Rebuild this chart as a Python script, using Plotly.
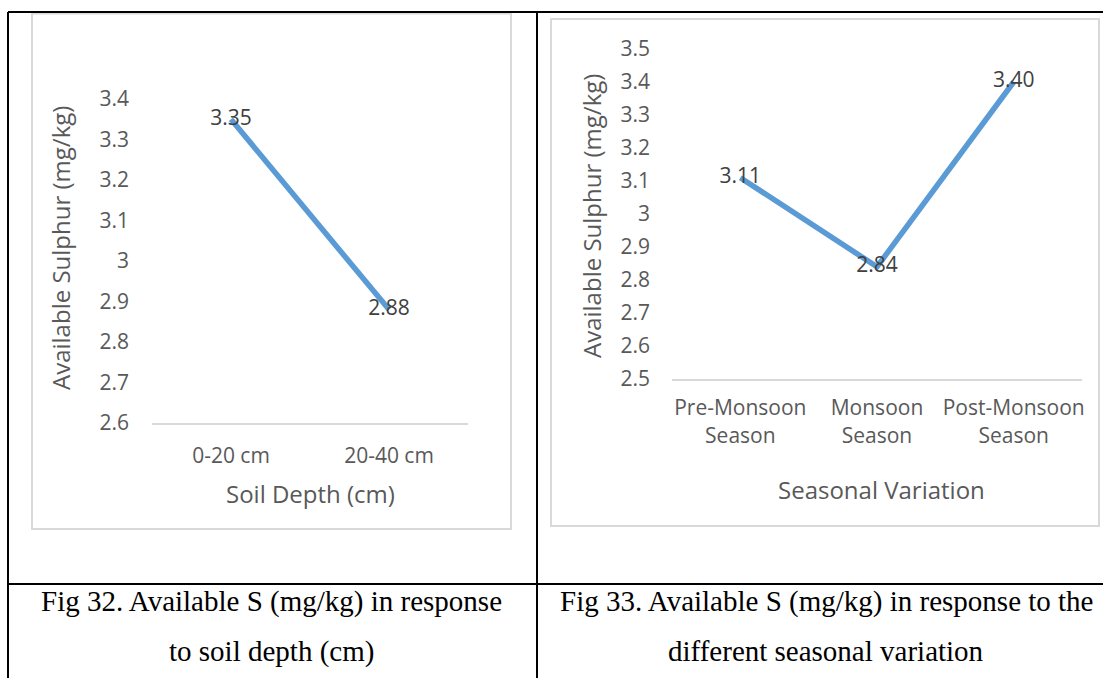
import plotly.graph_objects as go

# ---- data ----
depth_categories = ["0-20 cm", "20-40 cm"]
depth_values = [3.35, 2.88]
season_categories = ["Pre-Monsoon<br>Season", "Monsoon<br>Season", "Post-Monsoon<br>Season"]
season_values = [3.11, 2.84, 3.40]
left_tickvals = [2.6, 2.7, 2.8, 2.9, 3.0, 3.1, 3.2, 3.3, 3.4]
left_ticktext = ["2.6", "2.7", "2.8", "2.9", "3", "3.1", "3.2", "3.3", "3.4"]
right_tickvals = [2.5, 2.6, 2.7, 2.8, 2.9, 3.0, 3.1, 3.2, 3.3, 3.4, 3.5]
right_ticktext = ["2.5", "2.6", "2.7", "2.8", "2.9", "3", "3.1", "3.2", "3.3", "3.4", "3.5"]
y_title = "Available Sulphur (mg/kg)"
left_x_title = "Soil Depth (cm)"
right_x_title = "Seasonal Variation"
caption_left = ["Fig 32. Available S (mg/kg) in response", "to soil depth (cm)"]
caption_right = ["Fig 33. Available S (mg/kg) in response to the", "different seasonal variation"]

W, H = 1103, 678


def px(x):
    return x / W


def py(y):
    return 1 - y / H


LINE = "#5B9BD5"
TICK = "#595959"
LABEL = "#404040"
GRAYBOX = "#D9D9D9"
FONT = "Open Sans"
TICKSIZE = 21
TITLESIZE = 24

fig = go.Figure()

fig.add_trace(go.Scatter(
    x=depth_categories, y=depth_values, xaxis="x", yaxis="y",
    mode="lines+text", line=dict(color=LINE, width=5.5),
    text=[f"{v:.2f}" for v in depth_values], textposition="middle center",
    textfont=dict(family=FONT, size=TICKSIZE, color=LABEL), showlegend=False,
    hoverinfo="skip", cliponaxis=False,
))
fig.add_trace(go.Scatter(
    x=season_categories, y=season_values, xaxis="x2", yaxis="y2",
    mode="lines+text", line=dict(color=LINE, width=5.5),
    text=[f"{v:.2f}" for v in season_values], textposition="middle center",
    textfont=dict(family=FONT, size=TICKSIZE, color=LABEL), showlegend=False,
    hoverinfo="skip", cliponaxis=False,
))

common_x = dict(showgrid=False, zeroline=False, showline=True, linecolor=GRAYBOX,
                linewidth=2, ticks="", tickfont=dict(family=FONT, size=TICKSIZE, color=TICK),
                automargin=False, fixedrange=True, type="category")
common_y = dict(showgrid=False, zeroline=False, showline=False, ticks="",
                tickfont=dict(family=FONT, size=TICKSIZE, color=TICK), automargin=False,
                fixedrange=True)

fig.update_layout(
    width=W, height=H,
    margin=dict(l=0, r=0, t=0, b=0),
    paper_bgcolor="white", plot_bgcolor="white",
    xaxis=dict(domain=[px(152), px(468)], anchor="y", range=[-0.5, 1.5],
               ticklabelstandoff=13, **common_x),
    yaxis=dict(domain=[py(423), py(99)], anchor="x", range=[2.6, 3.4],
               tickvals=left_tickvals, ticktext=left_ticktext,
               ticklabelstandoff=22, **common_y),
    xaxis2=dict(domain=[px(672), px(1082)], anchor="y2", range=[-0.5, 2.5],
                ticklabelstandoff=9, **common_x),
    yaxis2=dict(domain=[py(379), py(49)], anchor="x2", range=[2.5, 3.5],
                tickvals=right_tickvals, ticktext=right_ticktext,
                ticklabelstandoff=21, **common_y),
)

shapes = []
# chart boxes
shapes.append(dict(type="rect", xref="paper", yref="paper",
                   x0=px(32), x1=px(511), y0=py(529), y1=py(13.5),
                   line=dict(color=GRAYBOX, width=2)))
shapes.append(dict(type="rect", xref="paper", yref="paper",
                   x0=px(551), x1=px(1099), y0=py(526), y1=py(19),
                   line=dict(color=GRAYBOX, width=2)))
# table borders
black = dict(color="black", width=2)
shapes.append(dict(type="line", xref="paper", yref="paper", x0=px(8), x1=1, y0=py(12), y1=py(12), line=black))
shapes.append(dict(type="line", xref="paper", yref="paper", x0=px(8), x1=px(8), y0=py(12), y1=0, line=black))
shapes.append(dict(type="line", xref="paper", yref="paper", x0=px(537), x1=px(537), y0=py(12), y1=0, line=black))
shapes.append(dict(type="line", xref="paper", yref="paper", x0=px(8), x1=1, y0=py(584), y1=py(584), line=black))
fig.update_layout(shapes=shapes)

ann = []
ann.append(dict(text=y_title, x=px(60), y=py(248), xref="paper", yref="paper",
                textangle=-90, showarrow=False, xanchor="center", yanchor="middle",
                font=dict(family=FONT, size=TITLESIZE, color=TICK)))
ann.append(dict(text=y_title, x=px(591), y=py(216), xref="paper", yref="paper",
                textangle=-90, showarrow=False, xanchor="center", yanchor="middle",
                font=dict(family=FONT, size=TITLESIZE, color=TICK)))
ann.append(dict(text=left_x_title, x=px(310), y=py(494), xref="paper", yref="paper",
                showarrow=False, xanchor="center", yanchor="middle",
                font=dict(family=FONT, size=TITLESIZE, color=TICK)))
ann.append(dict(text=right_x_title, x=px(881), y=py(489), xref="paper", yref="paper",
                showarrow=False, xanchor="center", yanchor="middle",
                font=dict(family=FONT, size=TITLESIZE, color=TICK)))
cap_font = dict(family="Liberation Serif", size=29, color="black")
for i, line in enumerate(caption_left):
    ann.append(dict(text=line, x=px(271), y=py(601 + 50 * i), xref="paper", yref="paper",
                    showarrow=False, xanchor="center", yanchor="middle", font=cap_font))
for i, line in enumerate(caption_right):
    ann.append(dict(text=line, x=px(826), y=py(601 + 50 * i), xref="paper", yref="paper",
                    showarrow=False, xanchor="center", yanchor="middle", font=cap_font))
fig.update_layout(annotations=ann)

fig.write_html("out.html")
